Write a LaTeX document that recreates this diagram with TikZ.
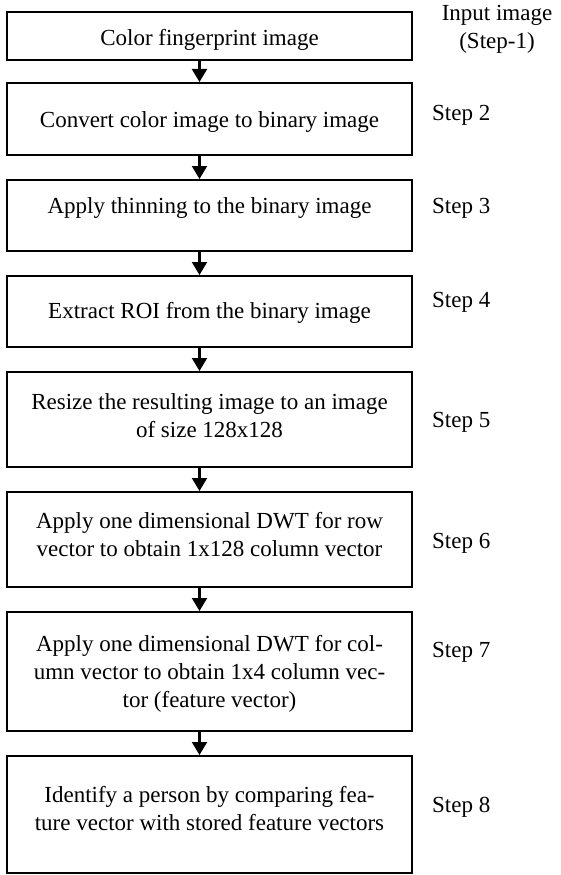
\documentclass[tikz,border=0pt]{standalone}
\usepackage{fontspec}
\setmainfont{Liberation Serif}
\usetikzlibrary{arrows.meta}
\begin{document}
\begin{tikzpicture}[x=1pt,y=-1pt,
  stepbox/.style={draw=black,line width=2pt,minimum width=405pt,inner sep=0pt},
  boxtext/.style={align=center,inner sep=0pt,font=\fontsize{23}{28}\selectfont},
  steplabel/.style={anchor=west,inner sep=0pt,font=\fontsize{23}{28}\selectfont},
  arr/.style={line width=2.2pt,-{Triangle[width=15pt,length=13pt]}}]
\useasboundingbox (0,0) rectangle (560,875);
% boxes
\node[stepbox,minimum height=48pt] (b1) at (209.5,36) {};
\node[stepbox,minimum height=72pt] (b2) at (209.5,119) {};
\node[stepbox,minimum height=71pt] (b3) at (209.5,215.5) {};
\node[stepbox,minimum height=71pt] (b4) at (209.5,311.5) {};
\node[stepbox,minimum height=95pt] (b5) at (209.5,419.5) {};
\node[stepbox,minimum height=95pt] (b6) at (209.5,539.5) {};
\node[stepbox,minimum height=119pt] (b7) at (209.5,671.5) {};
\node[stepbox,minimum height=117pt] (b8) at (209.5,814.5) {};
% texts
\node[boxtext] (t1) at (209.5,40) {Color fingerprint image};
\node[boxtext] (t2) at (209.5,122) {Convert color image to binary image};
\node[boxtext] (t3) at (209.5,208) {Apply thinning to the binary image};
\node[boxtext] (t4) at (209.5,313) {Extract ROI from the binary image};
\node[boxtext] (t5) at (209.5,415.5) {Resize the resulting image to an image\\of size 128x128};
\node[boxtext] (t6) at (209.5,535) {Apply one dimensional DWT for row\\vector to obtain 1x128 column vector};
\node[boxtext] (t7) at (209.5,674) {Apply one dimensional DWT for col-\\umn vector to obtain 1x4 column vec-\\tor (feature vector)};
\node[boxtext] (t8) at (209.5,808.5) {Identify a person by comparing fea-\\ture vector with stored feature vectors};
% step labels
\node[boxtext] (s1) at (497,29) {Input image\\(Step-1)};
\node[steplabel] (s2) at (432,115) {Step 2};
\node[steplabel] (s3) at (432,208) {Step 3};
\node[steplabel] (s4) at (432,302) {Step 4};
\node[steplabel] (s5) at (432,422) {Step 5};
\node[steplabel] (s6) at (432,543) {Step 6};
\node[steplabel] (s7) at (432,652) {Step 7};
\node[steplabel] (s8) at (432,807) {Step 8};
% arrows
\foreach \a/\b in {b1/b2,b2/b3,b3/b4,b4/b5,b5/b6,b6/b7,b7/b8}
  \draw[arr] ([xshift=-10pt]\a.south) -- ([xshift=-10pt]\b.north);
\end{tikzpicture}
\end{document}
